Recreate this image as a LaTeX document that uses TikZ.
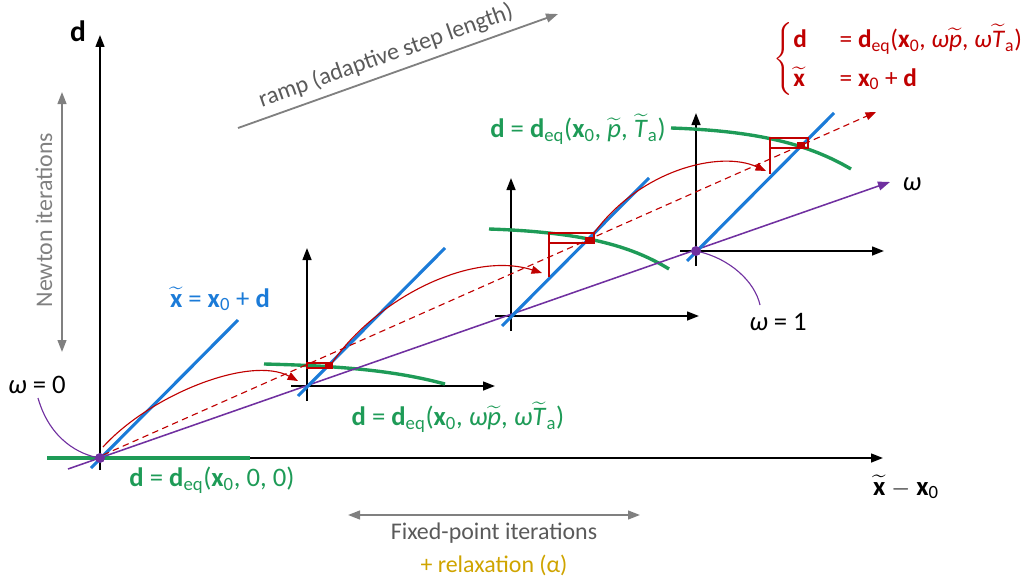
\documentclass[tikz,border=0pt]{standalone}
\usepackage{amsmath}
\usepackage{fontspec}
\setmainfont{Carlito}
\usepackage{tikz}
\usetikzlibrary{positioning,arrows.meta,calc}
\definecolor{lineblue}{HTML}{1B7BD8}
\definecolor{eqgreen}{HTML}{1E9B57}
\definecolor{fixred}{HTML}{C00000}
\definecolor{rampviolet}{HTML}{7030A0}
\definecolor{hintgray}{HTML}{808080}
\definecolor{textgray}{HTML}{5A5A5A}
\definecolor{gold}{HTML}{CFA400}

\newcommand{\bd}{\textbf{d}}
\newcommand{\bx}{\textbf{x}}
\newcommand{\tld}[1]{$\widetilde{\mbox{#1}}$}
\newcommand{\deq}{\bd\textsubscript{eq}}
\newcommand{\om}{\textit{ω}}

\begin{document}
\begin{tikzpicture}[x=0.25mm,y=-0.25mm,
  every node/.style={font=\fontsize{17}{20}\selectfont},
  formula/.style={font=\fontsize{19}{23}\selectfont},
  axis/.style={-{Triangle[length=3mm,width=2.2mm]},line width=1.4pt},
  hint/.style={{Triangle[length=3mm,width=2.2mm]}-{Triangle[length=3mm,width=2.2mm]},line width=1.3pt,color=hintgray},
  fixline/.style={line width=2.2pt,color=lineblue},
  eqcurve/.style={line width=2.4pt,color=eqgreen},
  iter/.style={-{Triangle[length=2.6mm,width=2mm]},line width=0.8pt,color=fixred},
  box/.style={line width=1pt,color=fixred},
  path/.style={line width=1.1pt,color=rampviolet}
]
  \useasboundingbox (0,0) rectangle (1025,583);
  % origins of the frames
  \coordinate (O) at (100,458);
  \coordinate (O1) at (307,386);
  \coordinate (O2) at (511,316);
  \coordinate (O3) at (696,251);

  % main axes
  \draw[eqcurve] (47,458) -- (250,458);
  \draw[axis] (O) ++(0,12) -- (100,35);
  \draw[axis] (250,458) -- (883,458);
  \node[font=\fontsize{21}{24}\selectfont\bfseries] (dlab) at (78,31) {d};
  \node[formula] (xlab) at (906,487) {\tld{\bx} $-$ \bx\textsubscript{0}};

  % small frames
  \foreach \o in {O1,O2,O3}{
    \draw[axis] ($(\o)+(-16,0)$) -- ($(\o)+(188,0)$);
    \draw[axis] ($(\o)+(0,15)$) -- ($(\o)+(0,-138)$);
  }

  % equilibrium curves
  \draw[eqcurve] (264,364) .. controls (350,366) and (400,372) .. (445,384);
  \draw[eqcurve] (489,229) .. controls (580,232) and (630,245) .. (669,269);
  \draw[eqcurve] (671,128) .. controls (760,131) and (810,145) .. (851,169);

  % ramp path
  \draw[path,-{Triangle[length=3mm,width=2.2mm]}] (68,469) -- (890,182);
  \node (omlab) at (912,184) {\fontsize{19}{22}\selectfont\om};

  % fixed lines
  \foreach \o in {O,O1,O2,O3}
    \draw[fixline] ($(\o)+(-9,10)$) -- ($(\o)+(138,-138)$);

  % dashed direction
  \draw[iter,dashed,dash pattern=on 1.6mm off 1.1mm] (103,455) -- (876,112);

  % fixed-point iterations
  \draw[box] (307,363) rectangle (332,368);
  \fill[fixred] (325,363) rectangle (332,368);
  \draw[box] (549,233) rectangle (594,243);
  \draw[box] (549,243) -- (549,277);
  \fill[fixred] (585,237) rectangle (594,243);
  \draw[box] (770,138) rectangle (808,148);
  \draw[box] (770,148) -- (770,174);
  \fill[fixred] (797,142) rectangle (805,148);

  % continuation steps
  \draw[iter] (103,447) .. controls (150,395) and (250,355) .. (298,381);
  \draw[iter] (332,363) .. controls (375,300) and (470,250) .. (542,273);
  \draw[iter] (594,233) .. controls (640,170) and (720,150) .. (766,171);

  % omega markers
  \fill[rampviolet] (O) circle (5);
  \fill[rampviolet] (O3) circle (5);
  \draw[rampviolet,line width=0.8pt] (38,398) .. controls (50,440) and (80,455) .. (O);
  \draw[rampviolet,line width=0.8pt] (O3) .. controls (730,258) and (755,282) .. (760,305);
  \node (om0) at (37,385) {\fontsize{19}{22}\selectfont\om{} = 0};
  \node (om1) at (778,322) {\fontsize{19}{22}\selectfont\om{} = 1};

  % labels
  \node[formula,text=lineblue] (fixlab) at (220,299) {\tld{\bx} = \bx\textsubscript{0} + \bd};
  \node[formula,text=eqgreen] (eq0) at (212,480) {\bd{} = \deq(\bx\textsubscript{0}, 0, 0)};
  \node[formula,text=eqgreen] (eqw) at (458,417) {\bd{} = \deq(\bx\textsubscript{0}, \om\tld{\textit{p}}, \om\tld{\textit{T}}\textsubscript{a})};
  \node[formula,text=eqgreen] (eq1) at (578,129) {\bd{} = \deq(\bx\textsubscript{0}, \tld{\textit{p}}, \tld{\textit{T}}\textsubscript{a})};
  \node[font=\fontsize{18}{22}\selectfont,text=fixred,anchor=west,inner sep=1pt] (sys) at (772,59) {\renewcommand{\arraystretch}{1.25}$\left\{\mbox{\begin{tabular}{@{}l@{\hspace{1.3em}}l@{}}
    \bd & = \deq(\bx\textsubscript{0}, \om\tld{\textit{p}}, \om\tld{\textit{T}}\textsubscript{a})\\
    \tld{\bx} & = \bx\textsubscript{0} + \bd
  \end{tabular}}\right.$};

  % hints
  \draw[hint,-{Triangle[length=3mm,width=2.2mm]}] (238,128) -- (558,14);
  \node[text=textgray,rotate=19.5] (ramp) at (386,56) {ramp (adaptive step length)};
  \draw[hint] (62,352) -- (62,92);
  \node[text=hintgray,rotate=90] (newton) at (44,220) {Newton iterations};
  \draw[hint] (348,515) -- (640,515);
  \node[text=textgray] (fixpt) at (494,533) {Fixed-point iterations};
  \node[text=gold,below=1pt of fixpt] (relax) {+ relaxation (α)};
\end{tikzpicture}
\end{document}
